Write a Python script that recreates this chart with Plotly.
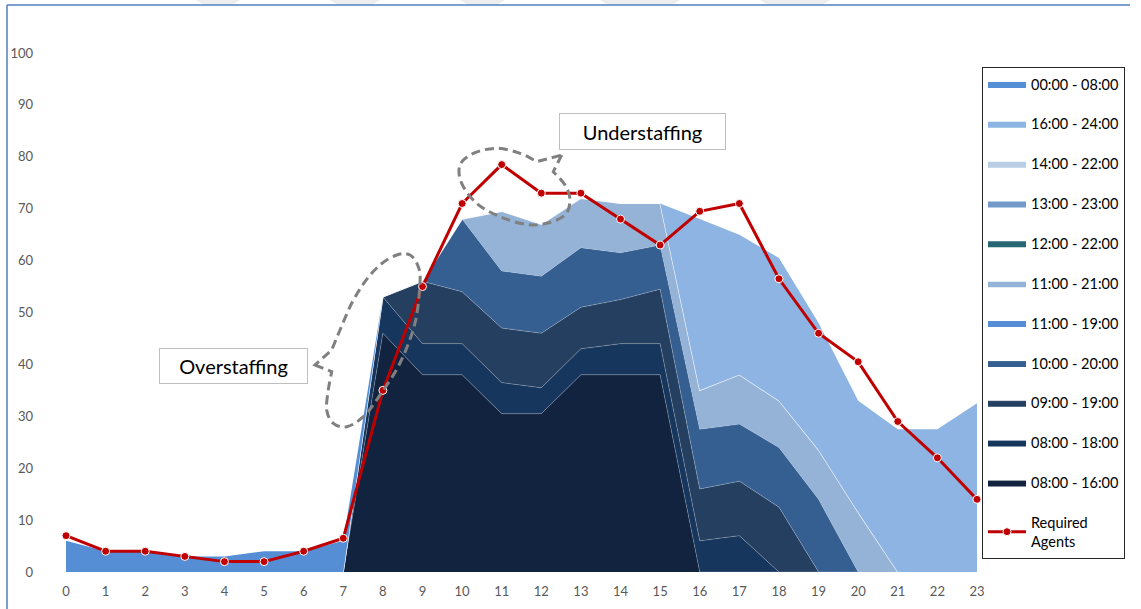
import plotly.graph_objects as go

# ---------------------------------------------------------------------------
# Data: agents scheduled per shift and agents required, by hour of day
# ---------------------------------------------------------------------------
hours = list(range(24))
hour_labels = [str(h) for h in hours]

required_agents = [7, 4, 4, 3, 2, 2, 4, 6.5, 35, 55, 71, 78.5,
                   73, 73, 68, 63, 69.5, 71, 56.5, 46, 40.5, 29, 22, 14]

shift_0800_1600 = [0, 0, 0, 0, 0, 0, 0, 0, 46, 38, 38, 30.5,
                   30.5, 38, 38, 38, 0, 0, 0, 0, 0, 0, 0, 0]
shift_0800_1800 = [0, 0, 0, 0, 0, 0, 0, 0, 7, 6, 6, 6,
                   5, 5, 6, 6, 6, 7, 0, 0, 0, 0, 0, 0]
shift_0900_1900 = [0, 0, 0, 0, 0, 0, 0, 0, 0, 12, 10, 10.5,
                   10.5, 8, 8.5, 10.5, 10, 10.5, 12.5, 0, 0, 0, 0, 0]
shift_1000_2000 = [0, 0, 0, 0, 0, 0, 0, 0, 0, 0, 14, 11,
                   11, 11.5, 9, 8.5, 11.5, 11, 11.5, 14, 0, 0, 0, 0]
shift_1100_1900 = [0, 0, 0, 0, 0, 0, 0, 0, 0, 0, 0, 0,
                   0, 0, 0, 0, 0, 0, 0, 0, 0, 0, 0, 0]
shift_1100_2100 = [0, 0, 0, 0, 0, 0, 0, 0, 0, 0, 0, 11.5,
                   10, 9.5, 9.5, 8, 7.5, 9.5, 9, 9.5, 11.5, 0, 0, 0]
shift_1200_2200 = [0, 0, 0, 0, 0, 0, 0, 0, 0, 0, 0, 0,
                   0, 0, 0, 0, 0, 0, 0, 0, 0, 0, 0, 0]
shift_1300_2300 = [0, 0, 0, 0, 0, 0, 0, 0, 0, 0, 0, 0,
                   0, 0, 0, 0, 0, 0, 0, 0, 0, 0, 0, 0]
shift_1400_2200 = [0, 0, 0, 0, 0, 0, 0, 0, 0, 0, 0, 0,
                   0, 0, 0, 0, 0, 0, 0, 0, 0, 0, 0, 0]
shift_1600_2400 = [0, 0, 0, 0, 0, 0, 0, 0, 0, 0, 0, 0,
                   0, 0, 0, 0, 33, 27, 27.5, 24.5, 21.5, 27.5, 27.5, 32.5]
shift_0000_0800 = [6, 4, 4, 3, 3, 4, 4, 6, 0, 0, 0, 0,
                   0, 0, 0, 0, 0, 0, 0, 0, 0, 0, 0, 0]

y_ticks = [0, 10, 20, 30, 40, 50, 60, 70, 80, 90, 100]

# Stack order, bottom layer first: (legend label, values, fill colour, edge colour, edge width)
EDGE = "rgba(255,255,255,0.28)"
layers = [
    ("08:00 - 16:00", shift_0800_1600, "#12233F", EDGE, 0.8),
    ("08:00 - 18:00", shift_0800_1800, "#17365D", EDGE, 0.8),
    ("09:00 - 19:00", shift_0900_1900, "#253F60", EDGE, 0.8),
    ("10:00 - 20:00", shift_1000_2000, "#365F91", EDGE, 0.8),
    ("11:00 - 19:00", shift_1100_1900, "#558ED5", EDGE, 0),
    ("11:00 - 21:00", shift_1100_2100, "#95B3D7", "rgba(255,255,255,0.9)", 1.2),
    ("12:00 - 22:00", shift_1200_2200, "#276774", EDGE, 0),
    ("13:00 - 23:00", shift_1300_2300, "#7299C8", EDGE, 0),
    ("14:00 - 22:00", shift_1400_2200, "#B9CDE5", EDGE, 0),
    ("16:00 - 24:00", shift_1600_2400, "#8DB4E2", EDGE, 0),
    ("00:00 - 08:00", shift_0000_0800, "#558ED5", EDGE, 0),
]

FONT = "Lato, Calibri, 'Liberation Sans', sans-serif"

fig = go.Figure()

n_layers = len(layers)
for i, (label, values, fill, edge, width) in enumerate(layers):
    fig.add_trace(go.Scatter(
        x=hours, y=values, name=label,
        mode="lines", stackgroup="staff",
        line=dict(color=edge, width=width),
        fillcolor=fill,
        legendgroup=label, legendrank=n_layers - i,
        hovertemplate=label + ": %{y}<extra></extra>",
    ))

fig.add_trace(go.Scatter(
    x=hours, y=required_agents, name="Required<br>Agents",
    mode="lines+markers",
    line=dict(color="#C00000", width=3),
    marker=dict(size=8, color="#C00000", line=dict(color="white", width=1)),
    legendgroup="required", legendrank=n_layers + 1,
    cliponaxis=False,
))

# ---------------------------------------------------------------------------
# Layout geometry (pixels) used to place callouts and decorations
# ---------------------------------------------------------------------------
W, H = 1141, 609
M_L, M_R, M_T, M_B = 40, 164, 53, 37
X_MIN, X_MAX = -0.657, 23
PLOT_W = W - M_L - M_R
PLOT_H = H - M_T - M_B
PX_PER_HOUR = PLOT_W / (X_MAX - X_MIN)
X0_PX = M_L - X_MIN * PX_PER_HOUR
Y0_PX = H - M_B
PX_PER_AGENT = PLOT_H / 100.0


def to_data(px, py):
    return ((px - X0_PX) / PX_PER_HOUR, (Y0_PX - py) / PX_PER_AGENT)


def to_paper(px, py):
    return ((px - M_L) / PLOT_W, (Y0_PX - py) / PLOT_H)


def callout_path(tip, outline):
    """Closed speech-bubble outline: smooth curve through `outline`,
    closed with straight segments to the pointer `tip` (pixel coords)."""
    pts = [to_data(*p) for p in outline]
    t = to_data(*tip)
    fmt = lambda p: f"{p[0]:.4f},{p[1]:.4f}"
    P = [pts[0]] + pts + [pts[-1]]
    d = f"M{fmt(t)} L{fmt(pts[0])}"
    for i in range(1, len(P) - 2):
        p0, p1, p2, p3 = P[i - 1], P[i], P[i + 1], P[i + 2]
        c1 = (p1[0] + (p2[0] - p0[0]) / 6, p1[1] + (p2[1] - p0[1]) / 6)
        c2 = (p2[0] - (p3[0] - p1[0]) / 6, p2[1] - (p3[1] - p1[1]) / 6)
        d += f" C{fmt(c1)} {fmt(c2)} {fmt(p2)}"
    d += f" L{fmt(t)} Z"
    return d


over_tip = (315, 365)
over_outline = [(331.7, 371.7), (328.3, 390), (326.7, 410), (333.3, 423.3),
                (346.7, 426.7), (363.3, 416.7), (380, 395), (400, 363),
                (415, 323), (420, 283), (418.3, 266.7), (410, 255),
                (396.7, 255), (380, 265), (365, 281.7), (351.7, 303.3),
                (340, 330), (331.7, 350)]

under_tip = (561.7, 155)
under_outline = [(553.3, 171.7), (565, 185), (570, 200), (565, 215),
                 (546.7, 223.3), (526.7, 224.5), (500, 216.7), (476.7, 203.3),
                 (461.7, 183.3), (460, 165), (473.3, 153.3), (496.7, 148.3),
                 (520, 153.3), (536.7, 161.7)]

dash_line = dict(color="#808080", width=3, dash="9px,5px")
shapes = [
    dict(type="path", xref="x", yref="y", path=callout_path(over_tip, over_outline),
         line=dash_line, fillcolor="rgba(0,0,0,0)", layer="above"),
    dict(type="path", xref="x", yref="y", path=callout_path(under_tip, under_outline),
         line=dash_line, fillcolor="rgba(0,0,0,0)", layer="above"),
]

# faint slanted bands along the very top edge
for a, b in [(196, 240), (330, 380), (460, 505), (600, 680), (760, 830)]:
    p1 = to_paper(a, 0)
    p2 = to_paper(b, 0)
    p3 = to_paper(b - 8, 5)
    p4 = to_paper(a + 8, 5)
    shapes.append(dict(
        type="path", xref="paper", yref="paper",
        path=f"M{p1[0]},{p1[1]} L{p2[0]},{p2[1]} L{p3[0]},{p3[1]} L{p4[0]},{p4[1]} Z",
        line=dict(width=0), fillcolor="#EDEDED", layer="below"))

# thin blue frame along the top and left edges
fx0, fy0 = to_paper(7, 5)
fx1, _ = to_paper(1130, 5)
_, fy1 = to_paper(7, 609)
frame = dict(color="#4F81BD", width=1.5)
shapes.append(dict(type="line", xref="paper", yref="paper",
                   x0=fx0, y0=fy0, x1=fx1, y1=fy0, line=frame))
shapes.append(dict(type="line", xref="paper", yref="paper",
                   x0=fx0, y0=fy0, x1=fx0, y1=fy1, line=frame))

ox, oy = to_data(233.5, 366)
ux, uy = to_data(642, 131.5)
annotations = [
    dict(text="Overstaffing", x=ox, y=oy, xref="x", yref="y", showarrow=False,
         width=147, height=34, bgcolor="white", bordercolor="#BFBFBF", borderwidth=1,
         borderpad=0, font=dict(family=FONT, size=20, color="#000000")),
    dict(text="Understaffing", x=ux, y=uy, xref="x", yref="y", showarrow=False,
         width=165, height=35, bgcolor="white", bordercolor="#BFBFBF", borderwidth=1,
         borderpad=0, font=dict(family=FONT, size=20, color="#000000")),
]

fig.update_layout(
    width=W, height=H,
    margin=dict(l=M_L, r=M_R, t=M_T, b=M_B, autoexpand=False),
    paper_bgcolor="white", plot_bgcolor="white",
    font=dict(family=FONT, size=13, color="#595959"),
    showlegend=True,
    legend=dict(
        xref="container", yref="container",
        x=982 / W, y=1 - 67 / H, xanchor="left", yanchor="top",
        bgcolor="white", bordercolor="#262626", borderwidth=1,
        font=dict(family=FONT, size=14.5, color="#000000"),
        traceorder="grouped", tracegroupgap=18, itemwidth=38,
        entrywidth=112, entrywidthmode="pixels",
        maxheight=600,
    ),
    xaxis=dict(
        range=[X_MIN, X_MAX], tickmode="array", tickvals=hours, ticktext=hour_labels,
        showgrid=False, zeroline=False, showline=False, ticks="",
        ticklabelstandoff=10,
        tickfont=dict(family=FONT, size=13, color="#595959"),
    ),
    yaxis=dict(
        range=[0, 100], tickmode="array", tickvals=y_ticks,
        showgrid=False, zeroline=False, showline=False, ticks="",
        ticklabelstandoff=6,
        tickfont=dict(family=FONT, size=13, color="#595959"),
    ),
    shapes=shapes,
    annotations=annotations,
    hovermode="closest",
)

fig.write_html("out.html")
